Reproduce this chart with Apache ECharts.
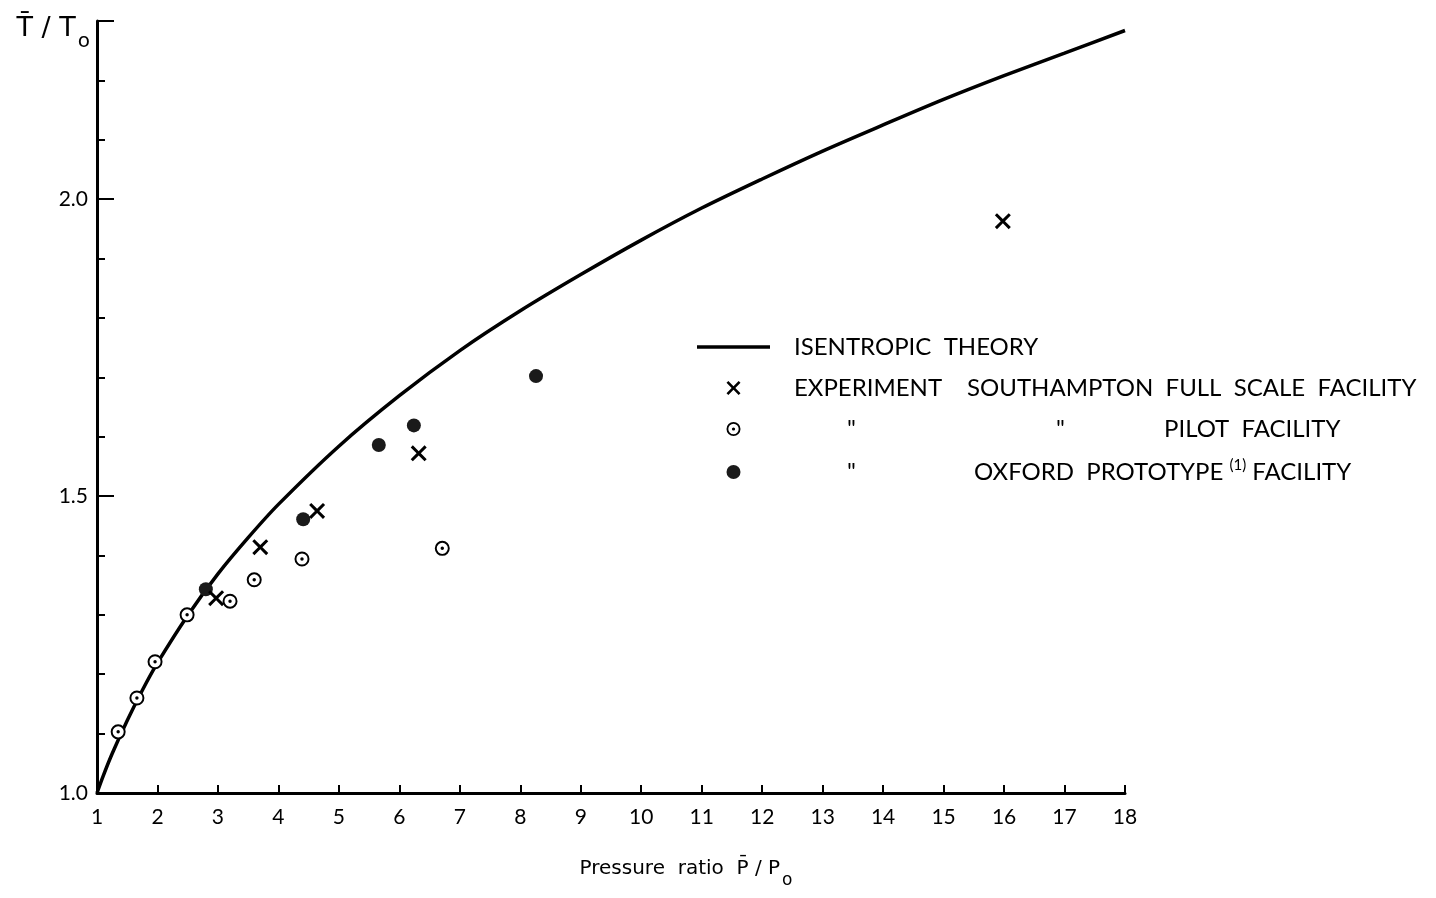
<!DOCTYPE html>
<html>
<head>
<meta charset="utf-8">
<title>T/To against pressure ratio</title>
<script src="https://cdn.jsdelivr.net/npm/echarts@6/dist/echarts.min.js"></script>
<style>
  html, body { margin: 0; padding: 0; background: #fff; }
  #chart { width: 1436px; height: 898px; }
</style>
</head>
<body>
<div id="chart"></div>
<script>
// isentropic theory curve
const theoryP = [1, 1.1, 1.25, 1.5, 1.75, 2, 2.5, 3, 3.5, 4, 5, 6, 7, 8, 9, 10, 11, 12, 13, 14, 15, 16, 17, 18]
const theoryT = [1.0, 1.028, 1.066, 1.122, 1.173, 1.219, 1.299, 1.369, 1.430, 1.486, 1.584, 1.669, 1.745, 1.812, 1.873, 1.931, 1.985, 2.034, 2.081, 2.125, 2.168, 2.208, 2.246, 2.284]

// experiment, Southampton full scale facility (crosses)
const fullScaleP = [2.97, 3.70, 4.64, 6.32, 15.98]
const fullScaleT = [1.328, 1.414, 1.475, 1.572, 1.963]

// Southampton pilot facility (dotted circles)
const pilotP = [1.35, 1.66, 1.96, 2.49, 3.20, 3.60, 4.39, 6.71]
const pilotT = [1.103, 1.160, 1.221, 1.300, 1.323, 1.359, 1.394, 1.412]

// Oxford prototype facility (filled circles)
const oxfordP = [2.80, 4.41, 5.66, 6.24, 8.26]
const oxfordT = [1.343, 1.461, 1.586, 1.619, 1.702]

const yLabels = ['1.0', '1.5', '2.0']

const zip = (xs, ys) => xs.map((x, i) => [x, ys[i]])

const CROSS = 'path://M0,1.6L1.6,0L6,4.4L10.4,0L12,1.6L7.6,6L12,10.4L10.4,12L6,7.6L1.6,12L0,10.4L4.4,6Z'
const RING_DOT = 'path://M10,0A10,10 0 1 1 10,20A10,10 0 1 1 10,0Z' +
  'M10,2.6A7.4,7.4 0 1 0 10,17.4A7.4,7.4 0 1 0 10,2.6Z' +
  'M10,7.7A2.3,2.3 0 1 1 10,12.3A2.3,2.3 0 1 1 10,7.7Z'
const LINE_ICON = 'path://M0,0H73V3.5H0Z'

const legendText = {
  'Isentropic theory': '{s| }{t|ISENTROPIC  THEORY}',
  'Full scale': '{s| }{c1|EXPERIMENT}{t|SOUTHAMPTON  FULL  SCALE  FACILITY}',
  'Pilot': '{s3| }{d1|"}{d2|"}{t|PILOT  FACILITY}',
  'Oxford': '{s3| }{d4|"}{t|OXFORD  PROTOTYPE }{sup|(1)}{t| FACILITY}'
}

const chart = echarts.init(document.getElementById('chart'))

const option = {
  backgroundColor: '#fff',
  animation: false,
  grid: { left: 97, right: 311, top: 21, bottom: 105, containLabel: false, outerBoundsMode: 'none' },
  legend: {
    orient: 'vertical',
    left: 692,
    top: 330,
    itemWidth: 73,
    itemHeight: 14,
    itemGap: 17,
    selectedMode: false,
    data: [
      { name: 'Isentropic theory', icon: LINE_ICON },
      { name: 'Full scale' },
      { name: 'Pilot', icon: RING_DOT },
      { name: 'Oxford' }
    ],
    formatter: name => legendText[name],
    textStyle: {
      fontFamily: 'Lato',
      fontSize: 24,
      color: '#000',
      rich: {
        s: { width: 19 },
        s3: { width: 72 },
        c1: { width: 173 },
        d1: { width: 209 },
        d2: { width: 108 },
        d4: { width: 127 },
        t: {},
        sup: { fontSize: 15, padding: [0, 0, 13, 0] }
      }
    }
  },
  xAxis: {
    type: 'value',
    min: 1,
    max: 18,
    interval: 1,
    name: '{m|Pressure  ratio  P\u0304 / P}{s|o}',
    nameLocation: 'middle',
    nameGap: 55,
    nameTextStyle: {
      padding: [0, 0, 0, 150],
      rich: {
        m: { fontFamily: 'DejaVu Sans', fontSize: 20, color: '#000' },
        s: { fontFamily: 'DejaVu Sans', fontSize: 17, color: '#000', padding: [24, 0, 0, 2] }
      }
    },
    axisLine: { lineStyle: { color: '#000', width: 3 } },
    axisTick: { inside: true, length: 8, lineStyle: { color: '#000', width: 2 } },
    axisLabel: { fontFamily: 'Lato', fontSize: 21, color: '#000', margin: 14 },
    splitLine: { show: false }
  },
  yAxis: [
    {
      type: 'value',
      min: 1,
      max: 2.3,
      interval: 0.1,
      name: '{m|T\u0304 / T}{s|o}',
      nameLocation: 'end',
      nameGap: -8,
      nameTextStyle: {
        align: 'right',
        verticalAlign: 'middle',
        padding: [0, 7, 0, 0],
        rich: {
          m: { fontFamily: 'DejaVu Sans', fontSize: 27, color: '#000' },
          s: { fontFamily: 'DejaVu Sans', fontSize: 20, color: '#000', padding: [26, 0, 0, 2] }
        }
      },
      axisLine: { lineStyle: { color: '#000', width: 3 } },
      axisTick: { inside: true, length: 8, lineStyle: { color: '#000', width: 2 } },
      axisLabel: {
        fontFamily: 'Lato',
        fontSize: 21,
        color: '#000',
        margin: 9,
        formatter: v => {
          const s = v.toFixed(1)
          return yLabels.includes(s) ? s : ''
        }
      },
      splitLine: { show: false }
    },
    {
      // longer ticks at the labelled values
      type: 'value',
      position: 'left',
      min: 1,
      max: 2.3,
      interval: 0.5,
      axisLine: { show: false },
      axisTick: { inside: true, length: 17, lineStyle: { color: '#000', width: 2 } },
      axisLabel: { show: false },
      splitLine: { show: false }
    }
  ],
  series: [
    {
      name: 'Isentropic theory',
      type: 'line',
      data: zip(theoryP, theoryT),
      smooth: 0.3,
      symbol: 'none',
      itemStyle: { color: '#000' },
      lineStyle: { color: '#000', width: 3.5 },
      z: 2
    },
    {
      name: 'Full scale',
      type: 'scatter',
      data: zip(fullScaleP, fullScaleT),
      symbol: CROSS,
      symbolSize: 16,
      symbolKeepAspect: true,
      itemStyle: { color: '#000', opacity: 1 },
      z: 5
    },
    {
      name: 'Pilot mask',
      type: 'scatter',
      data: zip(pilotP, pilotT),
      symbol: 'circle',
      symbolSize: 14,
      itemStyle: { color: '#fff', opacity: 1 },
      silent: true,
      z: 3
    },
    {
      name: 'Pilot',
      type: 'scatter',
      data: zip(pilotP, pilotT),
      symbol: RING_DOT,
      symbolSize: 15,
      symbolKeepAspect: true,
      itemStyle: { color: '#000', opacity: 1 },
      z: 4
    },
    {
      name: 'Oxford',
      type: 'scatter',
      data: zip(oxfordP, oxfordT),
      symbol: 'circle',
      symbolSize: 14,
      itemStyle: { color: '#1a1a1a', opacity: 1 },
      z: 4
    }
  ]
}

chart.setOption(option)
</script>
</body>
</html>
